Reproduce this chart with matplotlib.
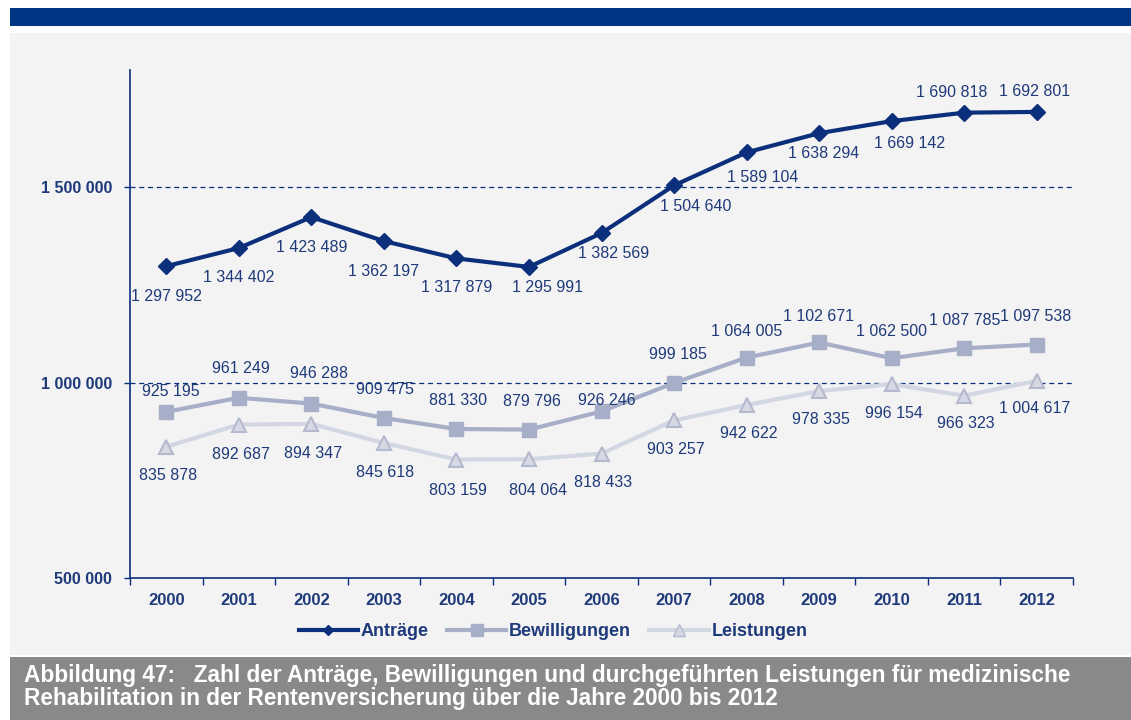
import matplotlib.pyplot as plt
from matplotlib.lines import Line2D
from matplotlib.patches import Rectangle

plt.rcParams['font.family'] = ['Liberation Sans', 'DejaVu Sans']

years = ["2000", "2001", "2002", "2003", "2004", "2005", "2006",
         "2007", "2008", "2009", "2010", "2011", "2012"]
antraege = [1297952, 1344402, 1423489, 1362197, 1317879, 1295991, 1382569,
            1504640, 1589104, 1638294, 1669142, 1690818, 1692801]
bewilligungen = [925195, 961249, 946288, 909475, 881330, 879796, 926246,
                 999185, 1064005, 1102671, 1062500, 1087785, 1097538]
leistungen = [835878, 892687, 894347, 845618, 803159, 804064, 818433,
              903257, 942622, 978335, 996154, 966323, 1004617]
yticks = [500000, 1000000, 1500000]
caption = ("Abbildung 47:   Zahl der Anträge, Bewilligungen und durchgeführten Leistungen für medizinische\n"
           "Rehabilitation in der Rentenversicherung über die Jahre 2000 bis 2012")

def fmt(v):
    return "{:,}".format(v).replace(",", " ")

navy = "#0b2f7a"
grey_blue = "#a7aec8"
light = "#d3d7e4"
txt = "#1f3a7a"

# label offsets in pixels (dx, dy)
off_a = [(0, -30), (0, -29), (0, -30), (0, -30), (0, -29), (19, -21), (12, -20),
         (22, -21), (16, -25), (5, -20), (18, -22), (-13, 20), (-2, 20)]
off_b = [(5, 20), (2, 29), (8, 30), (1, 28), (2, 28), (3, 28), (5, 11),
         (4, 28), (0, 26), (-1, 26), (0, 27), (0, 28), (-1, 28)]
off_l = [(2, -29), (2, -30), (2, -30), (1, -30), (2, -31), (9, -31), (2, -29),
         (2, -29), (2, -28), (2, -28), (2, -29), (2, -28), (-2, -28)]

fig = plt.figure(figsize=(11.31, 7.2), dpi=100)
fig.patch.set_facecolor("white")
W, H = 1131, 720
fig.add_artist(Rectangle((10 / W, 1 - 26 / H), 1, 18 / H, transform=fig.transFigure,
                         facecolor="#003584", edgecolor="none", zorder=-5))
fig.add_artist(Rectangle((10 / W, 65 / H), 1, (655 - 33) / H, transform=fig.transFigure,
                         facecolor="#f3f3f3", edgecolor="none", zorder=-5))
fig.add_artist(Rectangle((10 / W, 0), 1, 63 / H, transform=fig.transFigure,
                         facecolor="#898989", edgecolor="none", zorder=-5))
fig.text(24 / W, 33 / H, caption, color="white", fontsize=16.3, fontweight="bold",
         va="center", ha="left", linespacing=1.0)

ax = fig.add_axes([130 / W, 142 / H, 943 / W, 508 / H])
ax.set_facecolor("none")
x = list(range(len(years)))

ax.plot(x, leistungen, color=light, lw=3, marker="^", ms=10,
        mfc="#d6d9e4", mec="#b4b9cd", mew=1.5, zorder=3)
ax.plot(x, bewilligungen, color=grey_blue, lw=3, marker="s", ms=10,
        mfc=grey_blue, mec=grey_blue, zorder=4)
ax.plot(x, antraege, color=navy, lw=3, marker="D", ms=8,
        mfc=navy, mec=navy, zorder=5)

for vals, offs in [(antraege, off_a), (bewilligungen, off_b), (leistungen, off_l)]:
    for i, v in enumerate(vals):
        ax.annotate(fmt(v), (i, v), xytext=offs[i], textcoords="offset pixels",
                    ha="center", va="center", fontsize=11.5, color=txt, zorder=6)

for yv in [1000000, 1500000]:
    ax.axhline(yv, color=navy, lw=0.9, ls=(0, (4, 3)), zorder=1)

ax.set_xlim(-0.5, 12.5)
ax.set_ylim(500000, 1800000)
ax.set_yticks(yticks)
ax.set_yticklabels([fmt(v) for v in yticks], fontweight="bold", color=txt, fontsize=11.5)
ax.set_xticks([i + 0.5 for i in range(-1, 13)], minor=False)
ax.set_xticklabels([])
ax.set_xticks(x, minor=True)
ax.set_xticklabels(years, minor=True, fontweight="bold", color=txt, fontsize=12)
ax.tick_params(axis="x", which="minor", length=0, pad=11)
ax.tick_params(axis="x", which="major", length=5, color=navy, width=1)
ax.tick_params(axis="y", length=4, color=navy, width=1, pad=9)
for s in ["top", "right"]:
    ax.spines[s].set_visible(False)
for s in ["left", "bottom"]:
    ax.spines[s].set_color(navy)
    ax.spines[s].set_linewidth(1.2)

handles = [
    Line2D([], [], color=navy, lw=3, marker="D", ms=5, mfc=navy, mec=navy),
    Line2D([], [], color=grey_blue, lw=3, marker="s", ms=8, mfc=grey_blue, mec=grey_blue),
    Line2D([], [], color=light, lw=3, marker="^", ms=8, mfc="#d6d9e4", mec="#b4b9cd"),
]
leg = fig.legend(handles, ["Anträge", "Bewilligungen", "Leistungen"], loc="center",
                 bbox_to_anchor=(553 / W, 1 - 632 / H), ncol=3, frameon=False,
                 handlelength=3.3, handletextpad=0.15, columnspacing=1.0,
                 prop={"weight": "bold", "size": 13})
for t in leg.get_texts():
    t.set_color(txt)

fig.savefig("out.png", dpi=100)
